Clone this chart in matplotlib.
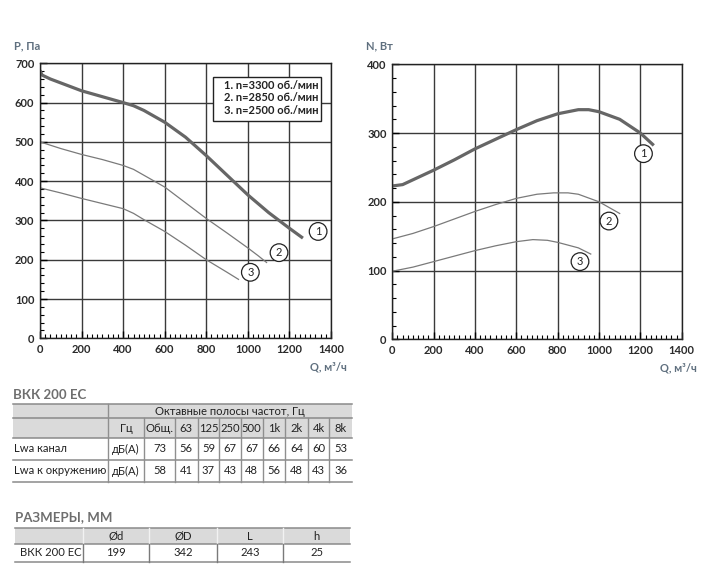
import matplotlib
matplotlib.use('Agg')
import matplotlib.pyplot as plt
from matplotlib.patches import Rectangle
from matplotlib.ticker import MultipleLocator

plt.rcParams['font.family'] = ['Lato', 'DejaVu Sans']

# --- характеристики P(Q) ---
q1 = [0, 10, 50, 100, 200, 300, 400, 450, 500, 600, 700, 800, 900, 1000, 1100, 1150, 1200, 1265]
p1 = [682, 670, 660, 650, 630, 615, 600, 592, 580, 550, 512, 465, 415, 365, 320, 300, 280, 255]
q2 = [0, 100, 200, 300, 400, 450, 500, 600, 700, 800, 900, 1000, 1050, 1090]
p2 = [500, 483, 468, 455, 440, 430, 415, 385, 345, 305, 268, 230, 210, 193]
q3 = [0, 100, 200, 300, 400, 450, 500, 600, 700, 800, 900, 955]
p3 = [383, 370, 356, 343, 330, 318, 302, 272, 237, 200, 168, 150]

# --- мощность N(Q) ---
nq1 = [0, 50, 100, 200, 300, 400, 500, 600, 700, 800, 900, 950, 1000, 1100, 1200, 1265]
n1 = [223, 225, 232, 246, 261, 277, 291, 305, 318, 328, 334, 334, 331, 320, 300, 282]
nq2 = [0, 100, 200, 300, 400, 500, 600, 700, 780, 850, 900, 1000, 1100]
n2 = [146, 154, 164, 175, 186, 196, 205, 211, 213, 213, 211, 200, 183]
nq3 = [0, 100, 200, 300, 400, 500, 600, 680, 750, 800, 900, 960]
n3 = [99, 105, 113, 121, 129, 136, 142, 145, 144, 141, 133, 124]

legend_lines = ['1. n=3300 об./мин', '2. n=2850 об./мин', '3. n=2500 об./мин']

# --- шумовые характеристики ---
oct_bands = ['Гц', 'Общ.', '63', '125', '250', '500', '1k', '2k', '4k', '8k']
row_names = ['Lwa канал', 'Lwa к окружению']
row_units = ['дБ(А)', 'дБ(А)']
lwa_duct = [73, 56, 59, 67, 67, 66, 64, 60, 53]
lwa_env = [58, 41, 37, 43, 48, 56, 48, 43, 36]

# --- размеры ---
dim_names = ['Ød', 'ØD', 'L', 'h']
dim_model = 'ВКК 200 ЕС'
dim_values = [199, 342, 243, 25]

W, H = 708, 580
fig = plt.figure(figsize=(W / 100, H / 100), dpi=100)

def fx(x):
    return x / W

def fy(y):
    return 1 - y / H

lab_col = '#5f6f7e'
tick_col = '#2a2a2a'
line_col = '#666666'
fs_tab = 8.1


def setup_axes(ax, ymax, ystep):
    ax.set_xlim(0, 1400)
    ax.set_ylim(0, ymax)
    ax.xaxis.set_major_locator(MultipleLocator(200))
    ax.xaxis.set_minor_locator(MultipleLocator(25))
    ax.yaxis.set_major_locator(MultipleLocator(ystep))
    ax.yaxis.set_minor_locator(MultipleLocator(ystep / 5))
    ax.grid(True, which='major', color='#3a3a3a', lw=1.0)
    ax.tick_params(which='both', direction='in', labelsize=8, labelcolor=tick_col,
                   top=False, right=False)
    ax.tick_params(which='major', length=5, width=1, pad=4)
    ax.tick_params(which='minor', length=3, width=0.8)
    plt.setp(ax.get_xticklabels() + ax.get_yticklabels(), fontweight='bold')
    for s in ax.spines.values():
        s.set_color('#222222')
        s.set_linewidth(1.0)
    ax.set_axisbelow(True)


def circ_label(ax, x, y, s):
    ax.text(x, y, s, ha='center', va='center', fontsize=8, color='#222222',
            bbox=dict(boxstyle='circle,pad=0.3', fc='white', ec='#222222', lw=0.9))


# левый график
ax1 = fig.add_axes([fx(40), fy(338.3), fx(291), (338.3 - 63.3) / H])
setup_axes(ax1, 700, 100)
ax1.plot(q1, p1, color=line_col, lw=2.3, solid_capstyle='butt')
ax1.plot(q2, p2, color='#7a7a7a', lw=0.9)
ax1.plot(q3, p3, color='#7a7a7a', lw=0.9)
circ_label(ax1, 1338, 272, '1')
circ_label(ax1, 1150, 218, '2')
circ_label(ax1, 1012, 168, '3')
# рамка с легендой
ax1.add_patch(Rectangle((0.5935, 0.7913), 0.3711, 0.1577, transform=ax1.transAxes,
                        fc='white', ec='#222222', lw=1.0, zorder=3))
for k, (s, yy) in enumerate(zip(legend_lines, [0.918, 0.874, 0.828])):
    ax1.text(0.795, yy, s, transform=ax1.transAxes, fontsize=8, fontweight='bold',
             color='#222222', ha='center', va='center', zorder=4)
fig.text(fx(14), fy(46), 'P, Па', fontsize=8, fontweight='bold', color=lab_col,
         va='center', ha='left')
fig.text(fx(347), fy(367), 'Q, м³/ч', fontsize=8, fontweight='bold', color=lab_col,
         va='center', ha='right')

# правый график
ax2 = fig.add_axes([fx(392.3), fy(339.3), fx(289.4), (339.3 - 64.3) / H])
setup_axes(ax2, 400, 100)
ax2.plot(nq1, n1, color=line_col, lw=2.3, solid_capstyle='butt')
ax2.plot(nq2, n2, color='#7a7a7a', lw=0.9)
ax2.plot(nq3, n3, color='#7a7a7a', lw=0.9)
circ_label(ax2, 1215, 270, '1')
circ_label(ax2, 1048, 172, '2')
circ_label(ax2, 908, 113, '3')
fig.text(fx(366), fy(46), 'N, Вт', fontsize=8, fontweight='bold', color=lab_col,
         va='center', ha='left')
fig.text(fx(697), fy(368), 'Q, м³/ч', fontsize=8, fontweight='bold', color=lab_col,
         va='center', ha='right')


def rect(x0, y0, x1, y1, color):
    fig.patches.append(Rectangle((fx(x0), fy(y1)), fx(x1 - x0), (y1 - y0) / H,
                                 transform=fig.transFigure, fc=color, ec='none', zorder=0))


def hline(x0, x1, y, color='#8a8a8a', lw=1.1):
    fig.add_artist(plt.Line2D([fx(x0), fx(x1)], [fy(y), fy(y)], color=color, lw=lw))


def vline(x, y0, y1, color='#8f8f8f', lw=1.0):
    fig.add_artist(plt.Line2D([fx(x), fx(x)], [fy(y0), fy(y1)], color=color, lw=lw))


txt_col = '#222222'
gray_fill = '#dadada'

# таблица шума
fig.text(fx(13), fy(395), 'ВКК 200 ЕС', fontsize=9.5, fontweight='bold', color='#6e6e6e',
         va='center', ha='left')
t_left, t_right = 13, 352
col_x = [108, 144, 175, 197.7, 219.3, 240.7, 262.7, 285, 308.3, 329.3, 352]
r_y = [404, 418, 438, 460, 482]
rect(t_left, r_y[0], t_right, r_y[2], gray_fill)
for y in r_y:
    hline(t_left, t_right, y)
vline(col_x[0], r_y[0], r_y[4])
for x in col_x[1:-1]:
    vline(x, r_y[1], r_y[4])
fig.text(fx((col_x[0] + t_right) / 2), fy((r_y[0] + r_y[1]) / 2 + 0.5),
         'Октавные полосы частот, Гц', fontsize=fs_tab, color=txt_col, ha='center', va='center')
for i, s in enumerate(oct_bands):
    fig.text(fx((col_x[i] + col_x[i + 1]) / 2), fy((r_y[1] + r_y[2]) / 2), s,
             fontsize=fs_tab, color=txt_col, ha='center', va='center')
for j, (name, unit, vals) in enumerate(zip(row_names, row_units, [lwa_duct, lwa_env])):
    yc = fy((r_y[2 + j] + r_y[3 + j]) / 2)
    fig.text(fx(14), yc, name, fontsize=fs_tab, color=txt_col, ha='left', va='center')
    fig.text(fx((col_x[0] + col_x[1]) / 2), yc, unit, fontsize=fs_tab, color=txt_col,
             ha='center', va='center')
    for i, v in enumerate(vals):
        fig.text(fx((col_x[i + 1] + col_x[i + 2]) / 2), yc, str(v), fontsize=fs_tab,
                 color=txt_col, ha='center', va='center')

# таблица размеров
fig.text(fx(15), fy(517), 'РАЗМЕРЫ, ММ', fontsize=9.5, fontweight='bold', color='#6e6e6e',
         va='center', ha='left')
d_left, d_right = 15, 350
d_cols = [82.7, 149.3, 217.3, 283.3, 350]
d_y = [528.3, 544.3, 561.7]
rect(d_left, d_y[0], d_right, d_y[1], gray_fill)
for y in d_y:
    hline(d_left, d_right, y)
for x in d_cols[:-1]:
    vline(x, d_y[0], d_y[1], color='#f2f2f2')
    vline(x, d_y[1], d_y[2], color='#7a7a7a')
for i, s in enumerate(dim_names):
    fig.text(fx((d_cols[i] + d_cols[i + 1]) / 2), fy((d_y[0] + d_y[1]) / 2), s,
             fontsize=fs_tab, color=txt_col, ha='center', va='center')
    fig.text(fx((d_cols[i] + d_cols[i + 1]) / 2), fy((d_y[1] + d_y[2]) / 2),
             str(dim_values[i]), fontsize=fs_tab, color=txt_col, ha='center', va='center')
fig.text(fx(20), fy((d_y[1] + d_y[2]) / 2), dim_model, fontsize=fs_tab, color=txt_col,
         ha='left', va='center')

fig.savefig('out.png', dpi=100, facecolor='white')
